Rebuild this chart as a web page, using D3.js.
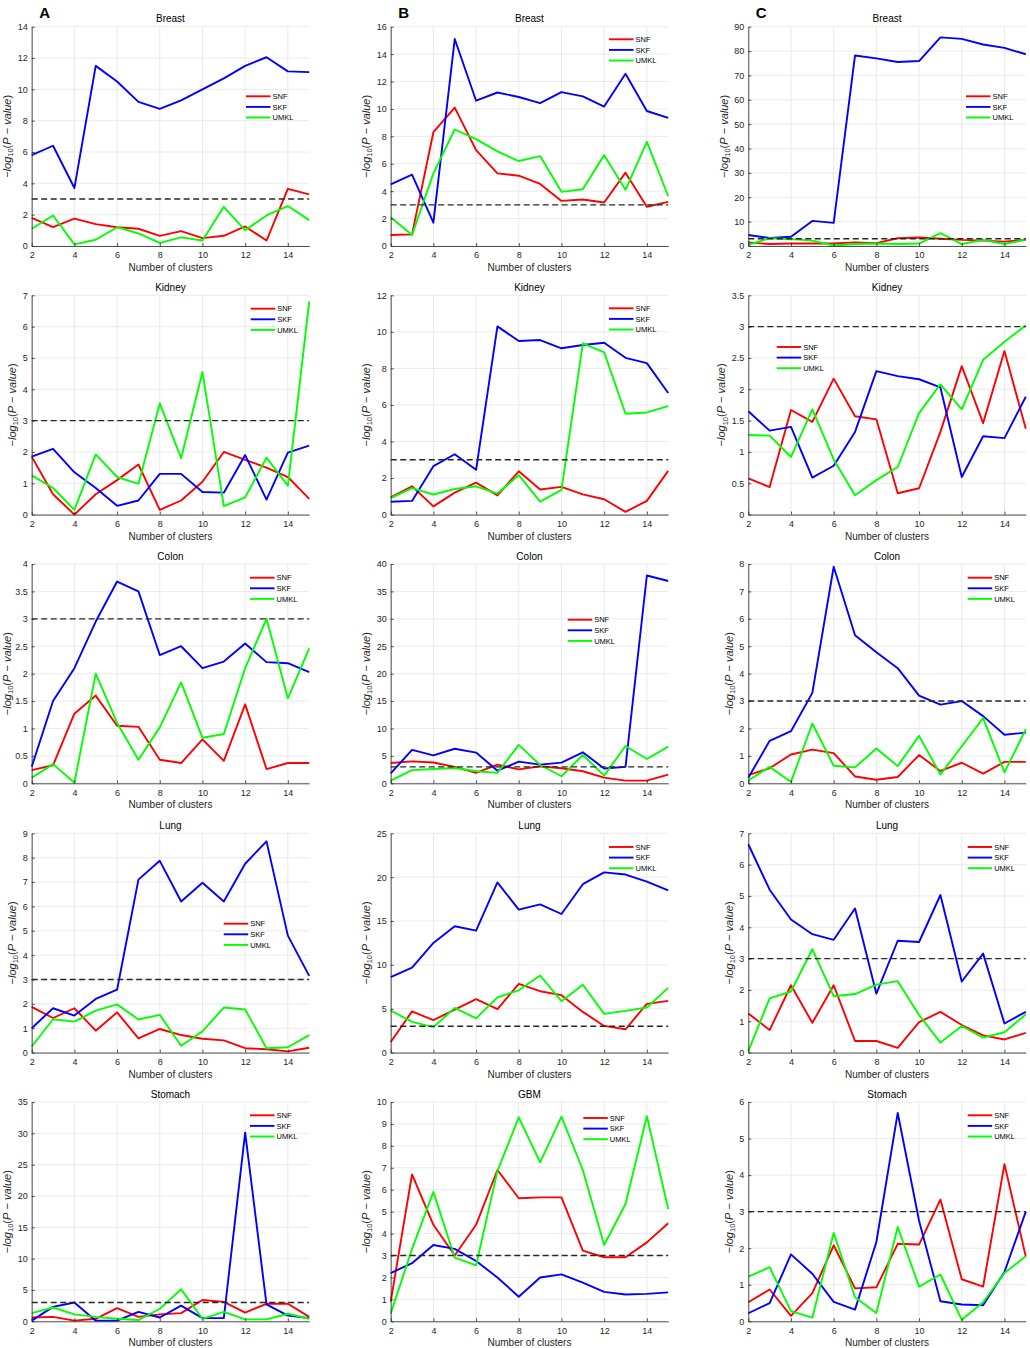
<!DOCTYPE html>
<html>
<head>
<meta charset="utf-8">
<script src="https://cdn.jsdelivr.net/npm/d3@7"></script>
<style>
  html, body { margin: 0; padding: 0; background: #fff; }
  svg { display: block; }
  text { font-family: "Liberation Sans", Arial, Helvetica, sans-serif; }
</style>
</head>
<body>
<div id="chart"></div>
<script>
// ---------------- DATA ----------------
const clusters = [2,3,4,5,6,7,8,9,10,11,12,13,14,15];
const xTicks = [2,4,6,8,10,12,14];
const seriesNames = ["SNF","SKF","UMKL"];
const threshold = 3;

// Column A
const snf_A_Breast  = [1.8,1.2,1.75,1.4,1.2,1.1,0.65,0.95,0.5,0.65,1.25,0.35,3.65,3.3];
const skf_A_Breast  = [5.8,6.4,3.7,11.5,10.5,9.2,8.75,9.3,10.0,10.7,11.5,12.05,11.15,11.1];
const umkl_A_Breast = [1.1,1.95,0.1,0.4,1.2,0.8,0.2,0.55,0.35,2.5,1.0,1.95,2.55,1.65];

const snf_A_Kidney  = [1.85,0.65,0.0,0.65,1.1,1.6,0.15,0.45,1.05,2.0,1.75,1.5,1.2,0.5];
const skf_A_Kidney  = [1.85,2.1,1.35,0.85,0.28,0.45,1.3,1.3,0.72,0.7,1.9,0.48,1.98,2.2];
const umkl_A_Kidney = [1.25,0.85,0.15,1.92,1.2,0.98,3.55,1.8,4.55,0.27,0.55,1.82,0.92,6.8];

const snf_A_Colon  = [0.24,0.33,1.27,1.6,1.05,1.03,0.43,0.37,0.8,0.41,1.44,0.26,0.37,0.37];
const skf_A_Colon  = [0.3,1.5,2.1,2.95,3.68,3.5,2.34,2.5,2.1,2.22,2.55,2.21,2.19,2.03];
const umkl_A_Colon = [0.1,0.35,0.01,2.0,1.1,0.43,1.02,1.84,0.83,0.9,2.1,3.0,1.55,2.46];

const snf_A_Lung  = [1.88,1.42,1.82,0.9,1.65,0.58,0.97,0.72,0.57,0.5,0.18,0.14,0.05,0.2];
const skf_A_Lung  = [1.0,1.82,1.52,2.2,2.58,7.1,7.87,6.2,6.97,6.2,7.75,8.67,4.8,3.15];
const umkl_A_Lung = [0.25,1.37,1.27,1.72,1.98,1.36,1.55,0.28,0.87,1.85,1.77,0.18,0.22,0.72];

const snf_A_Stomach  = [0.6,0.7,0.1,0.4,2.1,0.7,1.1,1.3,3.4,3.1,1.4,2.8,2.8,0.7];
const skf_A_Stomach  = [0.1,2.3,3.0,0.1,0.1,1.5,0.6,2.5,0.5,0.5,30.1,2.7,0.9,0.5];
const umkl_A_Stomach = [1.3,2.2,1.1,0.7,0.4,0.2,2.0,5.1,0.4,1.5,0.3,0.3,1.2,0.4];

// Column B
const snf_B_Breast  = [0.8,0.85,8.3,10.1,7.0,5.3,5.13,4.53,3.29,3.39,3.17,5.35,2.86,3.22];
const skf_B_Breast  = [4.5,5.2,1.7,15.1,10.6,11.2,10.87,10.43,11.23,10.92,10.17,12.57,9.85,9.35];
const umkl_B_Breast = [2.1,0.8,5.3,8.5,7.8,6.9,6.2,6.56,3.95,4.14,6.63,4.1,7.6,3.63];

const snf_B_Kidney  = [0.95,1.55,0.45,1.2,1.75,1.05,2.37,1.37,1.52,1.11,0.84,0.15,0.75,2.39];
const skf_B_Kidney  = [0.7,0.75,2.65,3.3,2.45,10.3,9.5,9.55,9.1,9.28,9.4,8.58,8.29,6.65];
const umkl_B_Kidney = [0.9,1.45,1.1,1.4,1.55,1.15,2.16,0.71,1.35,9.37,8.88,5.52,5.59,5.94];

const snf_B_Colon  = [3.7,4.0,3.8,3.0,1.9,3.4,2.55,3.1,2.74,2.2,1.03,0.49,0.49,1.58];
const skf_B_Colon  = [1.8,6.1,5.1,6.3,5.6,2.3,3.95,3.4,3.77,5.65,2.7,3.0,37.9,36.9];
const umkl_B_Colon = [0.5,2.4,2.6,2.8,2.2,1.9,7.0,3.34,1.28,5.17,1.4,6.8,4.44,6.7];

const snf_B_Lung  = [1.2,4.7,3.7,4.9,6.1,4.95,7.84,7.0,6.55,4.64,3.04,2.66,5.56,5.9];
const skf_B_Lung  = [8.6,9.7,12.5,14.4,13.9,19.4,16.3,16.9,15.8,19.2,20.55,20.3,19.5,18.5];
const umkl_B_Lung = [4.8,3.5,2.9,5.1,3.9,6.3,7.1,8.79,5.86,7.73,4.41,4.76,5.14,7.38];

const snf_B_GBM  = [0.9,6.7,4.4,3.0,4.4,6.9,5.61,5.65,5.65,3.22,2.92,2.92,3.6,4.47];
const skf_B_GBM  = [2.2,2.65,3.48,3.3,2.75,2.0,1.12,2.0,2.14,1.76,1.34,1.22,1.25,1.32];
const umkl_B_GBM = [0.35,3.3,5.9,2.9,2.55,6.85,9.3,7.25,9.33,6.9,3.48,5.35,9.35,5.12];

// Column C
const snf_C_Breast  = [1.5,0.8,1.0,1.0,1.0,1.5,1.2,3.2,3.5,3.0,2.5,2.2,1.8,2.5];
const skf_C_Breast  = [4.5,3.3,3.8,10.3,9.5,78.2,77.0,75.5,75.9,85.6,85.0,82.7,81.3,78.7];
const umkl_C_Breast = [0.5,3.2,2.8,2.2,0.2,0.8,1.0,0.8,1.0,5.3,0.8,2.5,0.8,2.6];

const snf_C_Kidney  = [0.58,0.44,1.67,1.48,2.17,1.57,1.52,0.34,0.42,1.32,2.37,1.46,2.61,1.37];
const skf_C_Kidney  = [1.65,1.34,1.4,0.59,0.78,1.32,2.29,2.21,2.16,2.03,0.6,1.25,1.22,1.88];
const umkl_C_Kidney = [1.27,1.26,0.92,1.68,0.88,0.31,0.55,0.76,1.62,2.08,1.68,2.47,2.76,3.02];

const snf_C_Colon  = [0.3,0.55,1.05,1.23,1.1,0.25,0.13,0.23,1.03,0.45,0.75,0.35,0.78,0.78];
const skf_C_Colon  = [0.2,1.55,1.9,3.3,7.9,5.4,4.78,4.2,3.2,2.87,3.0,2.45,1.77,1.85];
const umkl_C_Colon = [0.1,0.6,0.05,2.18,0.64,0.58,1.27,0.63,1.73,0.32,1.35,2.38,0.4,1.97];

const snf_C_Lung  = [1.25,0.72,2.15,0.95,2.15,0.37,0.37,0.15,0.97,1.3,0.88,0.55,0.42,0.63];
const skf_C_Lung  = [6.65,5.2,4.25,3.78,3.6,4.6,1.88,3.57,3.53,5.03,2.27,3.16,0.93,1.3];
const umkl_C_Lung = [0.05,1.73,1.95,3.3,1.8,1.87,2.17,2.28,1.2,0.32,0.85,0.48,0.65,1.22];

const snf_C_Stomach  = [0.52,0.87,0.15,0.77,2.08,0.9,0.93,2.12,2.1,3.33,1.15,0.95,4.3,1.77];
const skf_C_Stomach  = [0.22,0.5,1.83,1.3,0.53,0.32,2.17,5.7,2.75,0.55,0.46,0.44,1.35,3.0];
const umkl_C_Stomach = [1.22,1.48,0.28,0.1,2.42,0.66,0.23,2.58,0.95,1.28,0.04,0.52,1.32,1.78];

// Y tick labels per panel
const yTicks_A_Breast  = [0,2,4,6,8,10,12,14];
const yTicks_A_Kidney  = [0,1,2,3,4,5,6,7];
const yTicks_A_Colon   = [0,0.5,1,1.5,2,2.5,3,3.5,4];
const yTicks_A_Lung    = [0,1,2,3,4,5,6,7,8,9];
const yTicks_A_Stomach = [0,5,10,15,20,25,30,35];
const yTicks_B_Breast  = [0,2,4,6,8,10,12,14,16];
const yTicks_B_Kidney  = [0,2,4,6,8,10,12];
const yTicks_B_Colon   = [0,5,10,15,20,25,30,35,40];
const yTicks_B_Lung    = [0,5,10,15,20,25];
const yTicks_B_GBM     = [0,1,2,3,4,5,6,7,8,9,10];
const yTicks_C_Breast  = [0,10,20,30,40,50,60,70,80,90];
const yTicks_C_Kidney  = [0,0.5,1,1.5,2,2.5,3,3.5];
const yTicks_C_Colon   = [0,1,2,3,4,5,6,7,8];
const yTicks_C_Lung    = [0,1,2,3,4,5,6,7];
const yTicks_C_Stomach = [0,1,2,3,4,5,6];

// ---------------- LAYOUT / STYLE ----------------
const W = 1030, H = 1348;
const colLeft = [31.7, 390.7, 748.3];
const rowTop = [26.7, 295.3, 564, 833.3, 1102];
const plotW = 277.5, plotH = 219.3;
const colors = {SNF: "#ff0000", SKF: "#0000ff", UMKL: "#00ff00"};
const colLetters = ["A","B","C"];

// panel table built from the arrays above: [col,row,title,snf,skf,umkl,yTicks,legendDx,legendDy]
const panels = [
  [0,0,"Breast", snf_A_Breast, skf_A_Breast, umkl_A_Breast, yTicks_A_Breast, 214.3, 69.6],
  [0,1,"Kidney", snf_A_Kidney, skf_A_Kidney, umkl_A_Kidney, yTicks_A_Kidney, 219, 13.4],
  [0,2,"Colon", snf_A_Colon, skf_A_Colon, umkl_A_Colon, yTicks_A_Colon, 218.3, 13.7],
  [0,3,"Lung", snf_A_Lung, skf_A_Lung, umkl_A_Lung, yTicks_A_Lung, 192, 90.4],
  [0,4,"Stomach", snf_A_Stomach, skf_A_Stomach, umkl_A_Stomach, yTicks_A_Stomach, 218.3, 13.3],
  [1,0,"Breast", snf_B_Breast, skf_B_Breast, umkl_B_Breast, yTicks_B_Breast, 218.3, 12.6],
  [1,1,"Kidney", snf_B_Kidney, skf_B_Kidney, umkl_B_Kidney, yTicks_B_Kidney, 218.3, 13],
  [1,2,"Colon", snf_B_Colon, skf_B_Colon, umkl_B_Colon, yTicks_B_Colon, 177, 55.7],
  [1,3,"Lung", snf_B_Lung, skf_B_Lung, umkl_B_Lung, yTicks_B_Lung, 218.3, 13.7],
  [1,4,"GBM", snf_B_GBM, skf_B_GBM, umkl_B_GBM, yTicks_B_GBM, 192.6, 16],
  [2,0,"Breast", snf_C_Breast, skf_C_Breast, umkl_C_Breast, yTicks_C_Breast, 217.7, 69.6],
  [2,1,"Kidney", snf_C_Kidney, skf_C_Kidney, umkl_C_Kidney, yTicks_C_Kidney, 28.4, 51.7],
  [2,2,"Colon", snf_C_Colon, skf_C_Colon, umkl_C_Colon, yTicks_C_Colon, 219.4, 13.7],
  [2,3,"Lung", snf_C_Lung, skf_C_Lung, umkl_C_Lung, yTicks_C_Lung, 219.4, 13.7],
  [2,4,"Stomach", snf_C_Stomach, skf_C_Stomach, umkl_C_Stomach, yTicks_C_Stomach, 219.4, 13.3]
];

const svg = d3.select("#chart").append("svg")
  .attr("width", W).attr("height", H)
  .attr("viewBox", `0 0 ${W} ${H}`);
svg.append("rect").attr("width", W).attr("height", H).attr("fill", "#fff");

// column letters
colLetters.forEach((L, i) => {
  svg.append("text")
    .attr("x", colLeft[i] + 7.5).attr("y", 18)
    .attr("font-size", 15).attr("font-weight", "bold").attr("fill", "#000")
    .text(L);
});

const axisColor = "#262626";
const fmt = v => String(v);

panels.forEach(p => {
  const [col, row, title, snf, skf, umkl, yTicks, lgDx, lgDy] = p;
  const g = svg.append("g").attr("transform", `translate(${colLeft[col]},${rowTop[row]})`);
  const x = d3.scaleLinear().domain([clusters[0], clusters[clusters.length-1]]).range([0, plotW]);
  const y = d3.scaleLinear().domain([yTicks[0], yTicks[yTicks.length-1]]).range([plotH, 0]);

  // grid
  const grid = g.append("g").attr("stroke", "#e4e4e4").attr("stroke-width", 0.8);
  grid.selectAll("line.gx").data(xTicks).join("line")
    .attr("x1", d => x(d)).attr("x2", d => x(d)).attr("y1", 0).attr("y2", plotH);
  grid.selectAll("line.gy").data(yTicks).join("line")
    .attr("x1", 0).attr("x2", plotW).attr("y1", d => y(d)).attr("y2", d => y(d));

  // data lines
  const line = d3.line().x((d, i) => x(clusters[i])).y(d => y(d));
  [snf, skf, umkl].forEach((vals, si) => {
    g.append("path").datum(vals)
      .attr("fill", "none")
      .attr("stroke", colors[seriesNames[si]])
      .attr("stroke-width", 1.9)
      .attr("stroke-linejoin", "round")
      .attr("d", line);
  });

  // threshold dashed line
  g.append("line")
    .attr("x1", x(clusters[0])).attr("x2", x(clusters[clusters.length-1]))
    .attr("y1", y(threshold)).attr("y2", y(threshold))
    .attr("stroke", "#262626").attr("stroke-width", 1.4)
    .attr("stroke-dasharray", "6,3.5");

  // axes
  const yAxis = d3.axisLeft(y).tickValues(yTicks).tickFormat(fmt)
    .tickSizeInner(-3).tickSizeOuter(0).tickPadding(4);
  const xAxis = d3.axisBottom(x).tickValues(xTicks).tickFormat(fmt)
    .tickSizeInner(-3).tickSizeOuter(0).tickPadding(6);
  const ya = g.append("g").call(yAxis);
  const xa = g.append("g").attr("transform", `translate(0,${plotH})`).call(xAxis);
  [ya, xa].forEach(a => {
    a.select(".domain").attr("stroke", axisColor).attr("stroke-width", 0.8);
    a.selectAll(".tick line").attr("stroke", axisColor).attr("stroke-width", 0.8);
    a.selectAll(".tick text").attr("fill", axisColor)
      .attr("font-size", 9).attr("font-family", "'Liberation Sans', Arial, sans-serif");
  });

  // max y tick label width
  let maxW = 0;
  ya.selectAll(".tick text").each(function() { maxW = Math.max(maxW, this.getComputedTextLength()); });

  // title
  g.append("text").attr("x", plotW/2).attr("y", -4.5)
    .attr("text-anchor", "middle").attr("font-size", 10).attr("fill", "#000")
    .text(title);

  // x label
  g.append("text").attr("x", plotW/2).attr("y", plotH + 25)
    .attr("text-anchor", "middle").attr("font-size", 10).attr("fill", axisColor)
    .text("Number of clusters");

  // y label (LaTeX-like); keep inside the page
  let bx = -(maxW + 10.5);
  if (colLeft[col] + bx < 11) bx = 11 - colLeft[col];
  const yl = g.append("text")
    .attr("transform", `translate(${bx},${plotH/2}) rotate(-90)`)
    .attr("text-anchor", "middle")
    .attr("font-family", "'Liberation Serif', 'DejaVu Serif', serif")
    .attr("font-size", 11).attr("fill", axisColor);
  yl.append("tspan").text("\u2212");
  yl.append("tspan").attr("font-style", "italic").text("log");
  yl.append("tspan").attr("font-size", 7.5).attr("dy", 2.3).text("10");
  yl.append("tspan").attr("dy", -2.3).text("(");
  yl.append("tspan").attr("font-style", "italic").text("P");
  yl.append("tspan").text(" \u2212 ");
  yl.append("tspan").attr("font-style", "italic").text("value");
  yl.append("tspan").text(")");

  // legend
  const lg = g.append("g").attr("transform", `translate(${lgDx},${lgDy})`);
  seriesNames.forEach((name, i) => {
    const ly = i * 10.6;
    lg.append("line").attr("x1", 0).attr("x2", 24.5).attr("y1", ly).attr("y2", ly)
      .attr("stroke", colors[name]).attr("stroke-width", 1.9);
    lg.append("text").attr("x", 26.5).attr("y", ly).attr("dy", "0.35em")
      .attr("font-size", 7.5).attr("fill", "#000").text(name);
  });
});
</script>
</body>
</html>
